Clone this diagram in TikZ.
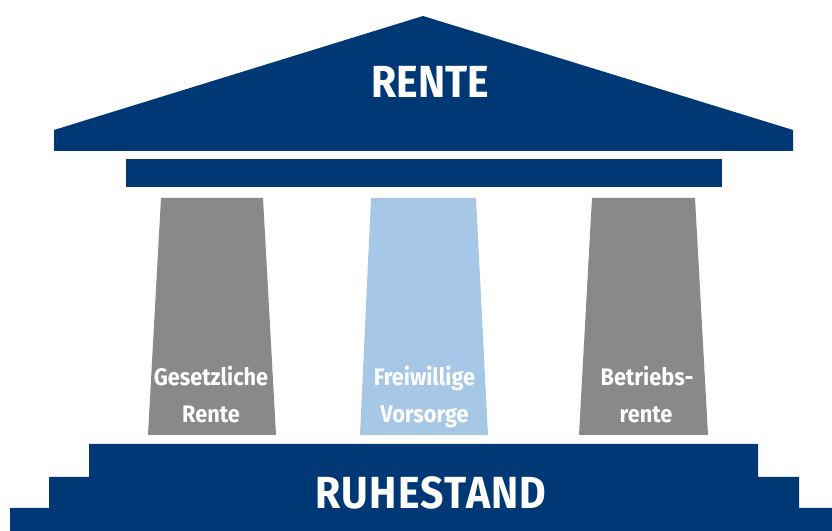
\documentclass[tikz,border=0pt]{standalone}
\usepackage{fontspec}
\setsansfont{Fira Sans}[FakeStretch=0.91]
\usepackage{tikz}

\definecolor{renteblue}{RGB}{0,56,118}
\definecolor{pillargray}{RGB}{137,137,139}
\definecolor{pillarlight}{RGB}{166,199,230}

\begin{document}
\begin{tikzpicture}[
  blueshape/.style={fill=renteblue, draw=none},
  pillar/.style={fill=pillargray, draw=none},
  bigtext/.style={text=white, anchor=base, inner sep=0pt, font=\sffamily\bfseries\fontsize{38.4}{40}\selectfont},
  pillartext/.style={text=white, anchor=base, inner sep=0pt, font=\sffamily\bfseries\fontsize{20.4}{24}\selectfont}
]
\useasboundingbox (0,0) rectangle (24.96,15.93);
\filldraw[blueshape] (1.62,11.4) -- (1.62,12.03) -- (12.69,15.45) -- (23.79,12.03) -- (23.79,11.4) -- cycle;
\filldraw[blueshape] (3.78,10.32) rectangle (21.66,11.16);
\filldraw[pillar] (4.44,2.88) -- (4.83,9.99) -- (7.89,9.99) -- (8.28,2.88) -- cycle;
\filldraw[pillar, fill=pillarlight] (10.8,2.88) -- (11.13,9.99) -- (14.28,9.99) -- (14.64,2.88) -- cycle;
\filldraw[pillar] (17.37,2.88) -- (17.76,9.99) -- (20.85,9.99) -- (21.24,2.88) -- cycle;
\filldraw[blueshape] (0.3,0) -- (0.3,0.69) -- (1.47,0.69) -- (1.47,1.62) -- (2.67,1.62) -- (2.67,2.61) -- (22.74,2.61) -- (22.74,1.62) -- (23.97,1.62) -- (23.97,0.69) -- (24.96,0.69) -- (24.96,0) -- cycle;
\node[bigtext] (rente) at (12.9,12.99) {RENTE};
\node[bigtext] (ruhestand) at (12.93,0.66) {\addfontfeature{LetterSpace=3}RUHESTAND};
\node[pillartext] (gesetz1) at (6.33,4.35) {Gesetzliche};
\node[pillartext] (gesetz2) at (6.33,3.24) {Rente};
\node[pillartext] (frei1) at (12.735,4.35) {Freiwillige};
\node[pillartext] (frei2) at (12.735,3.24) {Vorsorge};
\node[pillartext] (betrieb1) at (19.41,4.35) {Betriebs-};
\node[pillartext] (betrieb2) at (19.38,3.24) {rente};
\end{tikzpicture}
\end{document}
